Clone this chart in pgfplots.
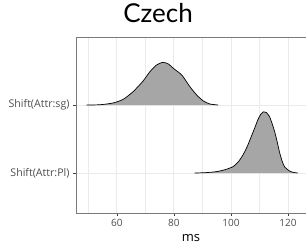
\documentclass[border=0pt]{standalone}
\usepackage{fontspec}
\setmainfont{Open Sans}
\newfontfamily\titlefont{Lato}
\usepackage{pgfplots}
\pgfplotsset{compat=1.18}
\definecolor{txtgray}{HTML}{4D4D4D}
\definecolor{gridgray}{HTML}{EBEBEB}
\definecolor{bordergray}{HTML}{7A7A7A}
\definecolor{ridgefill}{HTML}{A6A6A6}
\begin{document}
\begin{tikzpicture}
\useasboundingbox (-76pt,-31pt) rectangle (230pt,213pt);
\begin{axis}[
  at={(0,0)}, anchor=south west,
  scale only axis, width=230pt, height=176pt,
  xmin=45.69, xmax=126.3, ymin=0.412, ymax=3.0,
  xtick={60,80,100,120}, minor xtick={50,70,90,110},
  ytick={1,2}, yticklabels={Shift(Attr:Pl),Shift(Attr:sg)},
  grid=both,
  major grid style={gridgray, line width=0.9pt},
  minor grid style={gridgray, line width=0.5pt},
  axis line style={draw=none},
  tick align=outside, major tick length=3pt, minor tick length=0pt,
  tick style={color=black!75, line width=0.5pt},
  xtick pos=left, ytick pos=left,
  xticklabel style={font=\fontsize{10}{12}\selectfont, text=txtgray},
  yticklabel style={font=\fontsize{10.6}{12}\selectfont, text=txtgray},
  /pgf/number format/assume math mode=true,
  xlabel={ms},
  xlabel style={font=\fontsize{13}{15}\selectfont, at={(rel axis cs:0.5,0)}, anchor=base, yshift=-28.7pt},
  title={\titlefont Czech},
  title style={font=\fontsize{26}{30}\selectfont, at={(rel axis cs:0.357,1)}, anchor=base, yshift=8.5pt},
  clip=false,
]
% sg ridge (baseline 2)
\addplot[fill=ridgefill, draw=none, smooth, tension=0.4] coordinates {
(49.4,2.0) (54.1,2.004) (58.7,2.03) (62.2,2.083) (65.7,2.196) (69.2,2.353) (71.6,2.49) (73.9,2.588) (76.2,2.628) (78.2,2.60) (79.8,2.54) (82.1,2.466) (83.0,2.43) (85.6,2.27) (88.0,2.147) (90.3,2.06) (92.6,2.015) (95.5,2.0)};
\addplot[black, line width=0.7pt, smooth, tension=0.4] coordinates {
(49.4,2.0) (54.1,2.004) (58.7,2.03) (62.2,2.083) (65.7,2.196) (69.2,2.353) (71.6,2.49) (73.9,2.588) (76.2,2.628) (78.2,2.60) (79.8,2.54) (82.1,2.466) (83.0,2.43) (85.6,2.27) (88.0,2.147) (90.3,2.06) (92.6,2.015) (95.5,2.0)};
% Pl ridge (baseline 1)
\addplot[fill=ridgefill, draw=none, smooth, tension=0.4] coordinates {
(87.3,1.0) (91.0,1.005) (94.9,1.02) (98.0,1.05) (100.7,1.093) (102.5,1.16) (104.2,1.265) (105.7,1.39) (107.1,1.534) (108.3,1.66) (109.4,1.78) (110.4,1.86) (111.4,1.90) (112.4,1.89) (113.5,1.83) (114.4,1.73) (115.3,1.61) (116.2,1.46) (117.0,1.31) (117.9,1.18) (118.8,1.09) (120.5,1.03) (122.0,1.008) (123.4,1.0)};
\addplot[black, line width=0.7pt, smooth, tension=0.4] coordinates {
(87.3,1.0) (91.0,1.005) (94.9,1.02) (98.0,1.05) (100.7,1.093) (102.5,1.16) (104.2,1.265) (105.7,1.39) (107.1,1.534) (108.3,1.66) (109.4,1.78) (110.4,1.86) (111.4,1.90) (112.4,1.89) (113.5,1.83) (114.4,1.73) (115.3,1.61) (116.2,1.46) (117.0,1.31) (117.9,1.18) (118.8,1.09) (120.5,1.03) (122.0,1.008) (123.4,1.0)};
\draw[bordergray, line width=0.7pt] (rel axis cs:1.01,1) -- (rel axis cs:0,1) -- (rel axis cs:0,0) -- (rel axis cs:1.01,0);
\end{axis}
\end{tikzpicture}
\end{document}
